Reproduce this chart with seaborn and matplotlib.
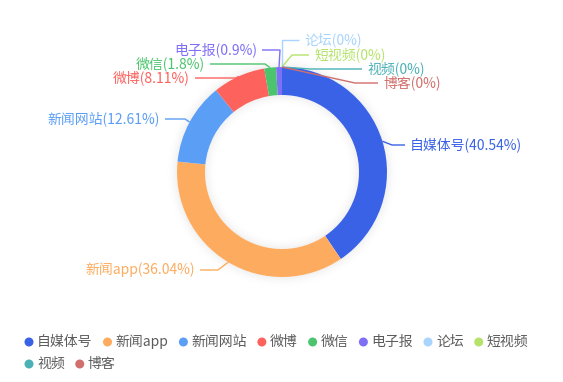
import numpy as np
import matplotlib.pyplot as plt
from matplotlib.patches import Wedge, Circle
import seaborn as sns

# --- Dados ---
categorias = ['自媒体号', '新闻app', '新闻网站', '微博', '微信', '电子报', '论坛', '短视频', '视频', '博客']
percentuais = [40.54, 36.04, 12.61, 8.11, 1.8, 0.9, 0, 0, 0, 0]
cores = ['#3a62e6', '#fdac5f', '#5b9ef6', '#fd625d', '#4cc46e',
         '#7e6ff7', '#a8d4fd', '#b5e36a', '#4bb1b6', '#d06f6b']

# --- Layout (pixels, y a partir do topo) ---
W, H = 563, 382
CX, CY = 282, 172
R_EXT, LARGURA = 105, 28
# (cotovelo x, cotovelo y, fim da linha x, alinhamento)
ROTULOS = [
    (392, 145, 405, 'left'),
    (218, 270, 200, 'right'),
    (185, 119, 165, 'right'),
    (236, 78, 195, 'right'),
    (265, 64, 210, 'right'),
    (280, 50, 262, 'right'),
    (282, 40, 299, 'left'),
    (292, 55, 309, 'left'),
    (310, 69, 362, 'left'),
    (355, 83, 378, 'left'),
]

sns.set_theme(style='white')
plt.rcParams['font.family'] = ['Noto Sans CJK SC', 'DejaVu Sans']
paleta = sns.color_palette(cores)


def py(y):
    return H - y


fig = plt.figure(figsize=(W / 100, H / 100), dpi=100)
ax = fig.add_axes([0, 0, 1, 1])

# sombra suave em volta do anel
for i in range(12):
    a = 0.05 * (1 - i / 12) ** 2
    ax.add_patch(Wedge((CX, py(CY)), R_EXT + i + 1, 0, 360, width=1, color='black', alpha=a, lw=0))
    ax.add_patch(Wedge((CX, py(CY)), R_EXT - LARGURA - i, 0, 360, width=1, color='black', alpha=a, lw=0))

fatias, _ = ax.pie(percentuais, colors=paleta, startangle=90, counterclock=False,
                   center=(CX, py(CY)), radius=R_EXT,
                   wedgeprops=dict(width=LARGURA, linewidth=0))

# rótulos com linhas de chamada
for fatia, nome, valor, cor, (ex, ey, fx, ha) in zip(fatias, categorias, percentuais, cores, ROTULOS):
    ang = np.deg2rad((fatia.theta1 + fatia.theta2) / 2)
    x0 = CX + R_EXT * np.cos(ang)
    y0 = py(CY) + R_EXT * np.sin(ang)
    ax.plot([x0, ex, fx], [y0, py(ey), py(ey)], color=cor, lw=1, solid_capstyle='butt')
    tx = fx + 5 if ha == 'left' else fx - 5
    ax.text(tx, py(ey), f'{nome}({valor:g}%)', color=cor, fontsize=10,
            ha=ha, va='center')

# --- Legenda (fluxo como no original) ---
fig.canvas.draw()
renderer = fig.canvas.get_renderer()
x, linha_y = 29, 342
for nome, cor in zip(categorias, cores):
    t = ax.text(0, 0, nome, fontsize=10, color='#5c5c5c', va='center')
    largura = t.get_window_extent(renderer).width
    if x + 9 + largura > W - 10:
        x, linha_y = 29, linha_y + 22
    ax.add_patch(Circle((x, py(linha_y)), 4.5, color=cor, lw=0))
    t.set_position((x + 8, py(linha_y)))
    x += 8 + largura + 15

ax.set_xlim(0, W)
ax.set_ylim(0, H)
ax.set_aspect('equal')
ax.axis('off')

fig.savefig('out.png', dpi=100)
